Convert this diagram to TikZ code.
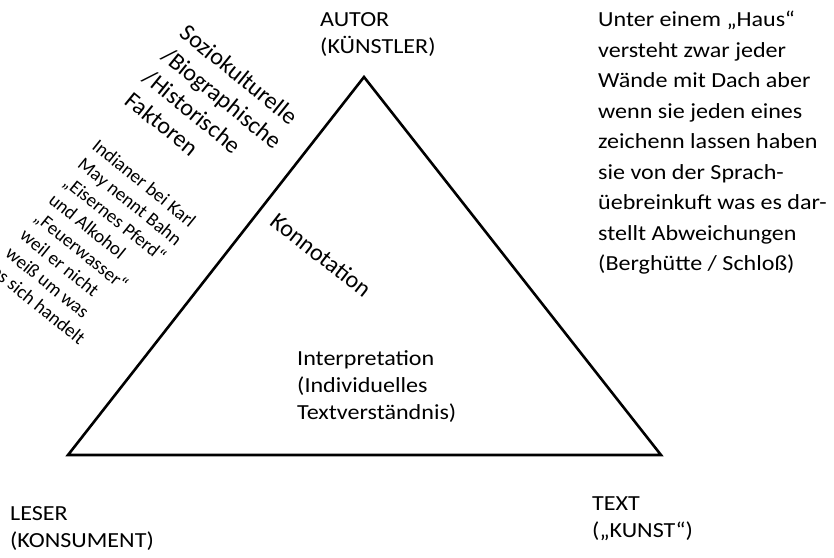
\documentclass[tikz,border=0pt]{standalone}
\usepackage{fontspec}
\setmainfont{Carlito}[FakeStretch=1.12]
\newfontfamily\rotfont{Carlito}
\usepackage{tikz}

\begin{document}
\begin{tikzpicture}[x=1pt,y=-1pt,
        txt/.style={inner sep=0pt, anchor=north west, align=left,
            font=\fontsize{21.5}{27}\selectfont},
        schraeg/.style={inner sep=0pt, align=left, rotate=-39}]
        \useasboundingbox (0,0) rectangle (834,557);

        % dreieck
        \coordinate (links) at (68,455);
        \coordinate (oben) at (364,77);
        \coordinate (rechts) at (661,455);
        \draw[line width=2.6pt, line join=miter] (links) -- (oben) -- (rechts) -- cycle;

        % ecken
        \node[txt] (autor) at (320,12) {AUTOR\\(KÜNSTLER)};
        \node[txt] (leser) at (10,506) {LESER\\(KONSUMENT)};
        \node[txt] (text) at (592,496) {TEXT\\(„KUNST“)};

        % innen
        \node[txt] (interp) at (297,350) {Interpretation\\(Individuelles\\Textverständnis)};
        \node[schraeg, rotate=1, font=\rotfont\fontsize{24}{29}\selectfont] (konno) at (321,255) {Konnotation};

        % links oben
        \node[schraeg, font=\rotfont\fontsize{24}{29}\selectfont] (faktoren) at (213,109)
            {Soziokulturelle\\/Biographische\\/Historische\\Faktoren};
        \node[schraeg, font=\rotfont\fontsize{19}{23}\selectfont] (bsp) at (94,246)
            {Indianer bei Karl\\May nennt Bahn\\„Eisernes Pferd“\\und Alkohol\\„Feuerwasser“\\weil er nicht\\weiß um was\\es sich handelt};

        % rechts oben
        \node[txt, font=\fontsize{21.5}{30.5}\selectfont] (haus) at (598,11) {Unter einem „Haus“\\versteht zwar jeder\\Wände mit Dach aber\\wenn sie jeden eines\\zeichenn lassen haben\\sie von der Sprach-\\üebreinkuft was es dar-\\stellt Abweichungen\\(Berghütte / Schloß)};
    \end{tikzpicture}
\end{document}
